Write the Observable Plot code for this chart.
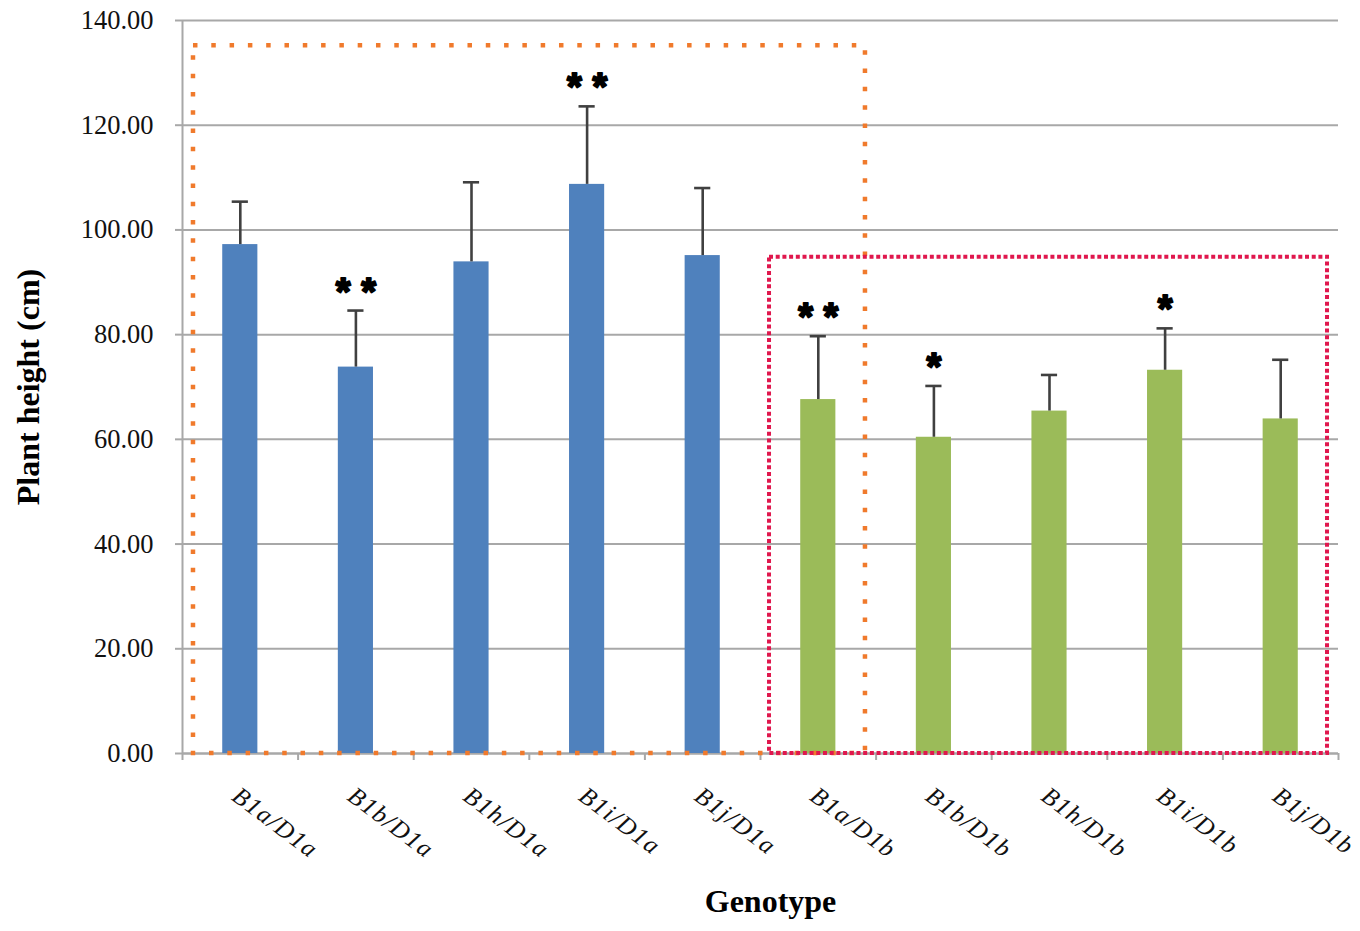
<!DOCTYPE html>
<html><head><meta charset="utf-8">
<script src="https://cdn.jsdelivr.net/npm/d3@7"></script>
<script src="https://cdn.jsdelivr.net/npm/@observablehq/plot@0.6"></script>
<style>
body{margin:0;background:#fff}
g[font-style="italic"] text{letter-spacing:1.4px}
</style>
</head><body><div id="chart"></div>
<script>
const genotypes = ["B1a/D1a","B1b/D1a","B1h/D1a","B1i/D1a","B1j/D1a","B1a/D1b","B1b/D1b","B1h/D1b","B1i/D1b","B1j/D1b"];
const means  = [97.2, 73.8, 93.9, 108.7, 95.1, 67.6, 60.4, 65.4, 73.2, 63.9];
const errors = [8.2, 10.8, 15.2, 14.9, 12.9, 12.1, 9.8, 6.9, 8.0, 11.3];
const groups = ["D1a","D1a","D1a","D1a","D1a","D1b","D1b","D1b","D1b","D1b"];
const signif = ["", "**", "", "**", "", "**", "*", "", "*", ""];
const yTicks = [0, 20, 40, 60, 80, 100, 120, 140];
// highlight boxes (x in category-index units, y in cm)
const boxD1a = [{x1: -0.405, x2: 5.408, y1: 0, y2: 135.2}];
const boxD1b = [{x1: 4.578, x2: 9.405, y1: 0, y2: 94.8}];

const rows = genotypes.map((g, i) => ({i, genotype: g, mean: means[i], err: errors[i], group: groups[i], sig: signif[i].split("").join(" ")}));
const boundaries = d3.range(genotypes.length + 1).map(k => k - 0.5);
const gray = "#A8A8A8";
const fillOf = {D1a: "#4F81BD", D1b: "#9BBB59"};

const chart = Plot.plot({
  width: 1360, height: 931,
  marginLeft: 182, marginRight: 22, marginTop: 20, marginBottom: 178,
  style: {fontFamily: "Liberation Serif", background: "#fff"},
  x: {type: "linear", domain: [-0.5, genotypes.length - 0.5], axis: null},
  y: {domain: [0, 140], axis: null},
  marks: [
    Plot.gridY(yTicks, {stroke: gray, strokeOpacity: 1, strokeWidth: 2}),
    Plot.ruleX([-0.5], {stroke: gray, strokeWidth: 2}),
    Plot.ruleY([0], {stroke: gray, strokeWidth: 2}),
    Plot.axisY({ticks: yTicks, tickFormat: d => d.toFixed(2), tickSize: 7, tickPadding: 22, fontSize: 26.5, stroke: gray, strokeWidth: 2, fill: "#111", label: null}),
    Plot.axisX({ticks: boundaries, tickFormat: () => "", tickSize: 7, stroke: gray, strokeWidth: 2, label: null}),
    Plot.rectY(rows, {x1: d => d.i - 0.152, x2: d => d.i + 0.152, y1: 0, y2: "mean", fill: d => fillOf[d.group]}),
    Plot.ruleX(rows, {x: "i", y1: "mean", y2: d => d.mean + d.err, stroke: "#404040", strokeWidth: 2.6}),
    Plot.ruleY(rows, {x1: d => d.i - 0.07, x2: d => d.i + 0.07, y: d => d.mean + d.err, stroke: "#404040", strokeWidth: 2.6}),
    Plot.rect(boxD1a, {x1: "x1", x2: "x2", y1: "y1", y2: "y2", fill: "none", stroke: "#F07A2C", strokeWidth: 4.5, strokeDasharray: "4.5,13.8"}),
    Plot.rect(boxD1b, {x1: "x1", x2: "x2", y1: "y1", y2: "y2", fill: "none", stroke: "#E0174D", strokeWidth: 4, strokeDasharray: "4,2.7"}),
    Plot.text(rows.filter(d => d.sig), {x: "i", y: d => d.mean + d.err, text: "sig", lineAnchor: "bottom", dy: -6, fontSize: 38, fontWeight: "bold", fontFamily: "Liberation Sans", fill: "#000", stroke: "#000", strokeWidth: 2}),
    Plot.text(rows, {x: "i", y: 0, text: "genotype", rotate: 37, textAnchor: "start", dx: -5, dy: 39, fontSize: 25, fontStyle: "italic", fill: "#111"}),
    Plot.text(["Plant height (cm)"], {frameAnchor: "left", textAnchor: "middle", dx: -154, rotate: -90, fontSize: 32, fontWeight: "bold", fill: "#000"}),
    Plot.text(["Genotype"], {frameAnchor: "bottom", textAnchor: "middle", dx: 10, dy: 158, fontSize: 32, fontWeight: "bold", fill: "#000"})
  ]
});
document.getElementById("chart").appendChild(chart);
</script>
</body></html>
